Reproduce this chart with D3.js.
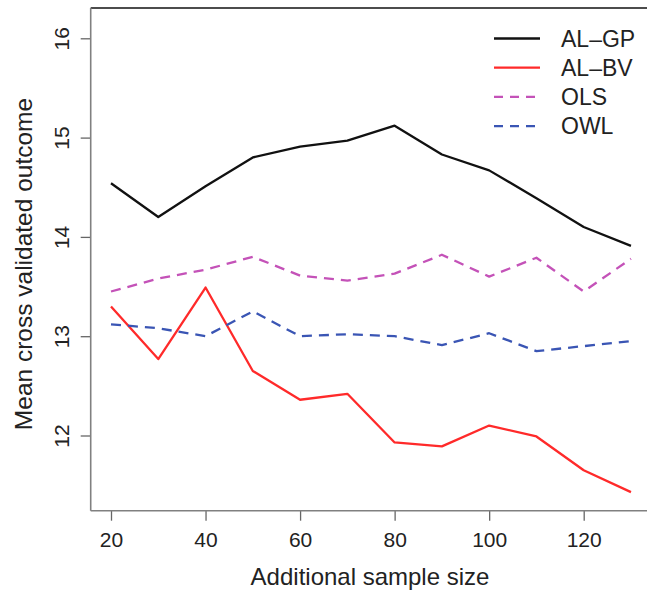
<!DOCTYPE html>
<html><head><meta charset="utf-8">
<script src="https://cdn.jsdelivr.net/npm/d3@7"></script>
<style>body{margin:0;background:#fff}svg{display:block;font-family:"Liberation Sans",Arial,Helvetica,sans-serif}</style>
</head><body><svg id="c" width="647" height="593"></svg>
<script>
const sampleSizes = [20,30,40,50,60,70,80,90,100,110,120,130];
const alGP = [14.54,14.20,14.51,14.80,14.91,14.97,15.12,14.83,14.67,14.39,14.10,13.91];
const alBV = [13.30,12.77,13.49,12.65,12.36,12.42,11.93,11.89,12.10,11.99,11.65,11.43];
const ols  = [13.45,13.58,13.67,13.80,13.61,13.56,13.63,13.82,13.60,13.79,13.45,13.78];
const owl  = [13.12,13.08,13.00,13.25,13.00,13.02,13.00,12.91,13.03,12.85,12.90,12.95];
const xTicks = [20,40,60,80,100,120];
const yTicks = [12,13,14,15,16];
const seriesNames = ["AL\u2013GP","AL\u2013BV","OLS","OWL"];

const series = [
  {name:seriesNames[0], values:alGP, color:"#111", dash:null},
  {name:seriesNames[1], values:alBV, color:"#ff2a2a", dash:null},
  {name:seriesNames[2], values:ols,  color:"#c452b8", dash:"10,7"},
  {name:seriesNames[3], values:owl,  color:"#3a55b4", dash:"10,7"}
];

const svg = d3.select("#c");
const x = d3.scaleLinear().domain([20,120]).range([111,583.7]);
const y = d3.scaleLinear().domain([12,16]).range([435.5,38.3]);
const pL = 90.7, pR = 647, pT = 8, pB = 510.7;
const axisCol = "#808080";

svg.append("line").attr("x1",pL).attr("x2",pR).attr("y1",pT).attr("y2",pT)
  .attr("stroke","#111").attr("stroke-width",1.6);

const yAxis = svg.append("g").attr("transform",`translate(${pL},0)`)
  .call(d3.axisLeft(y).tickValues(yTicks).tickSize(10).tickPadding(0).tickFormat(d3.format("d")));
yAxis.select(".domain").remove();
yAxis.selectAll(".tick line").attr("stroke","#666").attr("stroke-width",1.3);
yAxis.selectAll(".tick text").attr("x",null).attr("dy",null)
  .attr("transform","translate(-22,0) rotate(-90)").attr("text-anchor","middle")
  .attr("y",0)
  .style("font-size","21px").attr("fill","#222");
svg.append("line").attr("x1",pL).attr("x2",pL).attr("y1",pT).attr("y2",pB)
  .attr("stroke",axisCol).attr("stroke-width",1.6);

const xAxis = svg.append("g").attr("transform",`translate(0,${pB})`)
  .call(d3.axisBottom(x).tickValues(xTicks).tickSize(10).tickPadding(0).tickFormat(d3.format("d")));
xAxis.select(".domain").remove();
xAxis.selectAll(".tick line").attr("stroke","#666").attr("stroke-width",1.3);
xAxis.selectAll(".tick text").attr("y",36).attr("dy",null).style("font-size","21px").attr("fill","#222");
svg.append("line").attr("x1",pL).attr("x2",pR).attr("y1",pB).attr("y2",pB)
  .attr("stroke",axisCol).attr("stroke-width",1.6);

svg.append("text").attr("x",370).attr("y",585).attr("text-anchor","middle")
  .style("font-size","24px").attr("fill","#222").text("Additional sample size");
svg.append("text").attr("transform","translate(32,264) rotate(-90)").attr("text-anchor","middle")
  .style("font-size","24.5px").attr("fill","#222").text("Mean cross validated outcome");

const line = d3.line().x((d,i)=>x(sampleSizes[i])).y(d=>y(d));
series.forEach(s=>{
  svg.append("path").datum(s.values).attr("d",line).attr("fill","none")
    .attr("stroke",s.color).attr("stroke-width",2.3).attr("stroke-dasharray",s.dash)
    .attr("stroke-linejoin","round");
});

const lg = svg.append("g");
series.forEach((s,i)=>{
  const yy = 38.5 + i*29.2;
  lg.append("line").attr("x1",494).attr("x2",540).attr("y1",yy).attr("y2",yy)
    .attr("stroke",s.color).attr("stroke-width",2.3).attr("stroke-dasharray",s.dash?"9,7":null);
  lg.append("text").attr("x",561).attr("y",yy+8.3).style("font-size","23px").attr("fill","#222").text(s.name);
});
</script></body></html>
